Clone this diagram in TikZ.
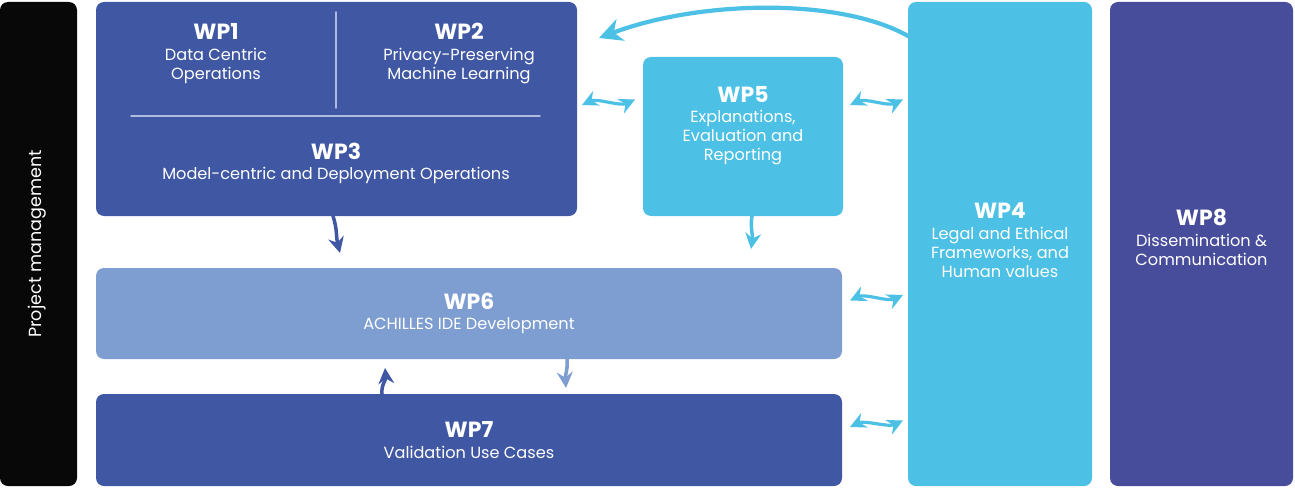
\documentclass[tikz,border=0pt]{standalone}
\usepackage{fontspec}
\setmainfont{Poppins}
\usetikzlibrary{arrows.meta}
\definecolor{wpdark}{RGB}{64,88,163}
\definecolor{wpcyan}{RGB}{77,192,229}
\definecolor{wplight}{RGB}{126,157,209}
\definecolor{wpviolet}{RGB}{71,76,155}
\definecolor{wpblack}{RGB}{8,8,8}
\definecolor{wpline}{RGB}{175,186,224}
\newcommand{\wptitle}[1]{{\fontsize{12.5}{13}\selectfont\bfseries #1}\\[1pt]}
\begin{document}
\begin{tikzpicture}[line cap=round,line join=round,>={Stealth[length=9pt,width=9pt,inset=3pt]},x=1.0cm,y=1.0cm,
	wpbox/.style={rounded corners=0.16cm,inner sep=0pt,text=white,align=center,
		font=\fontsize{9.2}{10.8}\selectfont},
	wptext/.style={text=white,align=center,inner sep=0pt,font=\fontsize{9.2}{10.8}\selectfont},
	wparrow/.style={->,line width=2pt},
	wpswap/.style={<->,line width=1.8pt,color=wpcyan}]
			\useasboundingbox (0,0) rectangle (25.9,-9.76);
			% boxes
			\node[wpbox,fill=wpblack,minimum width=1.54cm,minimum height=9.68cm] (pm) at (0.77,-4.88) {};
			\node[wptext,rotate=90,font=\fontsize{10}{12}\selectfont] (pmtext) at (0.74,-4.88) {Project management};
			\node[wpbox,fill=wpdark,minimum width=9.62cm,minimum height=4.28cm] (wp123) at (6.73,-2.18) {};
			\node[wpbox,fill=wpcyan,minimum width=4.0cm,minimum height=3.18cm] (wp5) at (14.86,-2.73) {};
			\node[wpbox,fill=wpcyan,minimum width=3.68cm,minimum height=9.68cm] (wp4) at (20.0,-4.88) {};
			\node[wpbox,fill=wpviolet,minimum width=3.66cm,minimum height=9.68cm] (wp8) at (24.03,-4.88) {};
			\node[wpbox,fill=wplight,minimum width=14.92cm,minimum height=1.82cm] (wp6) at (9.38,-6.27)
				{\wptitle{WP6}ACHILLES IDE Development};
			\node[wpbox,fill=wpdark,minimum width=14.92cm,minimum height=1.84cm] (wp7) at (9.38,-8.80)
				{\wptitle{WP7}Validation Use Cases};
			% texts
			\draw [line width=0.8pt,color=wpline] (6.72,-0.24)-- (6.72,-2.16);
			\draw [line width=0.8pt,color=wpline] (2.62,-2.32)-- (10.8,-2.32);
			\node[wptext] (wp1) at (4.32,-1.07) {\wptitle{WP1}Data Centric\\Operations};
			\node[wptext] (wp2) at (9.18,-1.07) {\wptitle{WP2}Privacy-Preserving\\Machine Learning};
			\node[wptext] (wp3) at (6.72,-3.27) {\wptitle{WP3}Model-centric and Deployment Operations};
			\node[wptext] (wp5text) at (14.86,-2.51) {\wptitle{WP5}Explanations,\\Evaluation and\\Reporting};
			\node[wptext] (wp4text) at (20.0,-4.80) {\wptitle{WP4}Legal and Ethical\\Frameworks, and\\Human values};
			\node[wptext] (wp8text) at (24.03,-4.75) {\wptitle{WP8}Dissemination \&\\Communication};
			% arrow ends
			\coordinate (wp4top) at (18.16,-0.72);
			\coordinate (wp12in) at (11.98,-0.76);
			\coordinate (wp3out) at (6.66,-4.32);
			\coordinate (wp6inA) at (6.8,-5.06);
			\coordinate (wp5out) at (15.04,-4.32);
			\coordinate (wp6inB) at (15.02,-4.98);
			\coordinate (wp7out) at (7.64,-7.88);
			\coordinate (wp6inC) at (7.7,-7.36);
			\coordinate (wp6out) at (11.34,-7.18);
			\coordinate (wp7in) at (11.32,-7.76);
			\coordinate (sA1) at (11.64,-2.10);
			\coordinate (sA2) at (12.70,-1.99);
			\coordinate (sB1) at (17.00,-2.10);
			\coordinate (sB2) at (18.06,-1.99);
			\coordinate (sC1) at (17.00,-6.01);
			\coordinate (sC2) at (18.06,-5.90);
			\coordinate (sD1) at (17.00,-8.54);
			\coordinate (sD2) at (18.06,-8.41);
			% arrows
			\draw [wparrow,color=wpcyan,line width=2.4pt,>={Stealth[length=13pt,width=13pt,inset=4pt]}] (wp4top) .. controls (16.8,0.05) and (14.0,0.0) .. (wp12in);
			\draw [wparrow,color=wpdark] (wp3out) .. controls (6.75,-4.6) and (6.72,-4.75) .. (wp6inA);
			\draw [wparrow,color=wpcyan] (wp5out) .. controls (15.0,-4.55) and (15.06,-4.7) .. (wp6inB);
			\draw [wparrow,color=wpdark] (wp7out) .. controls (7.62,-7.7) and (7.72,-7.6) .. (wp6inC);
			\draw [wparrow,color=wplight] (wp6out) .. controls (11.36,-7.4) and (11.3,-7.5) .. (wp7in);
			\draw [wpswap] (sA1) .. controls +(0.3,0.14) and +(-0.3,-0.14) .. (sA2);
			\draw [wpswap] (sB1) .. controls +(0.3,0.14) and +(-0.3,-0.14) .. (sB2);
			\draw [wpswap] (sC1) .. controls +(0.3,0.14) and +(-0.3,-0.14) .. (sC2);
			\draw [wpswap] (sD1) .. controls +(0.3,0.14) and +(-0.3,-0.14) .. (sD2);
		\end{tikzpicture}
\end{document}
